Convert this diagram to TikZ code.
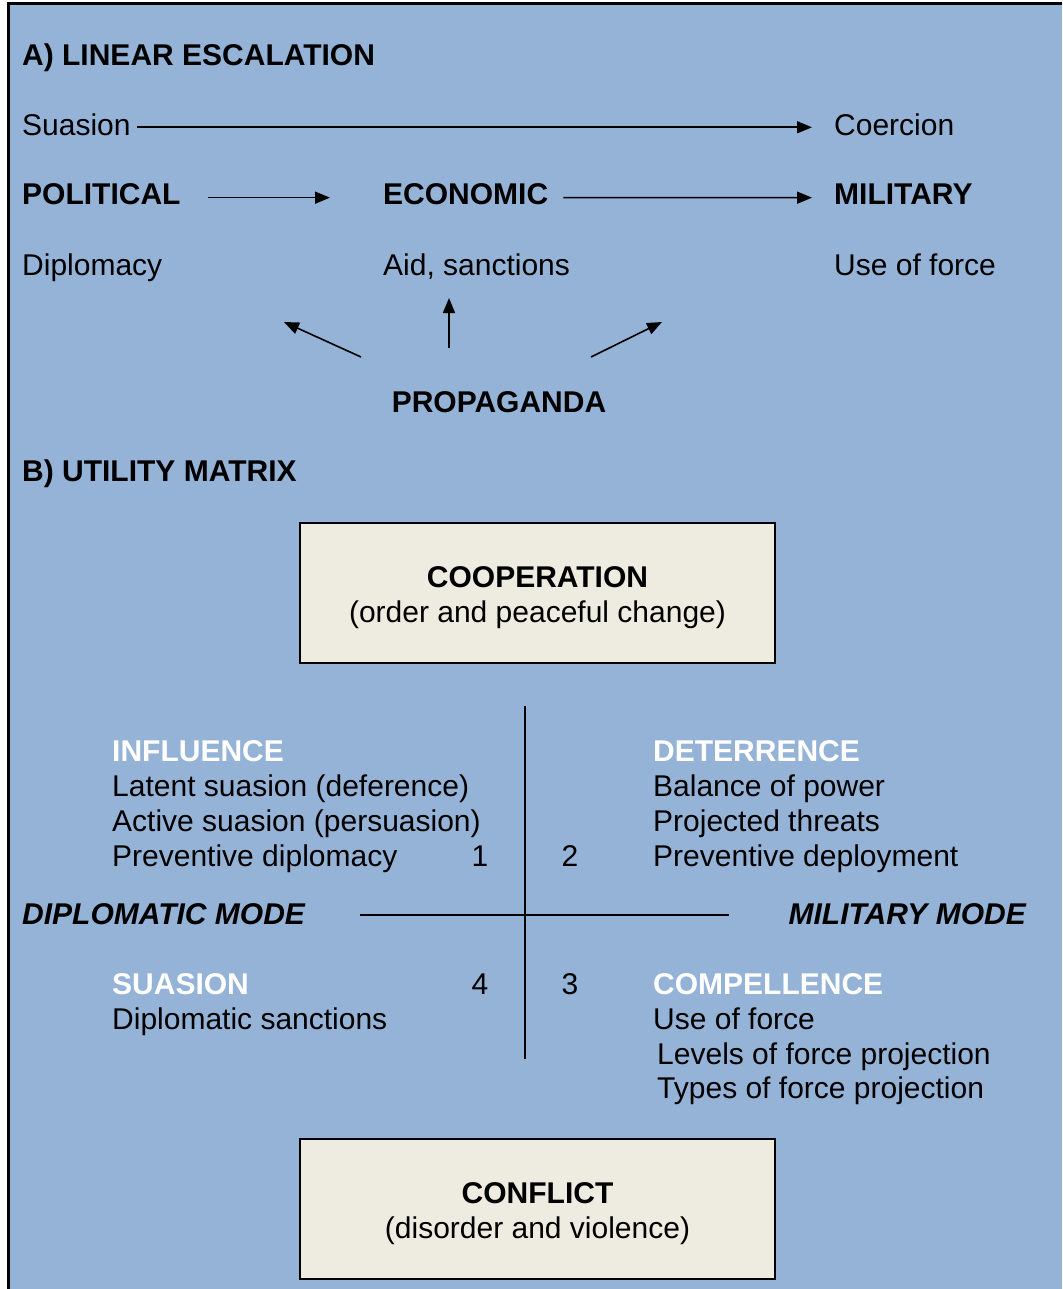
\documentclass[tikz,border=0pt]{standalone}
\usepackage{fontspec}
\setmainfont{Liberation Sans}
\usetikzlibrary{arrows.meta}
\definecolor{bgblue}{HTML}{95B3D7}
\definecolor{boxtan}{HTML}{EEECE1}
\begin{document}
\begin{tikzpicture}[x=1pt,y=-1pt,
  txt/.style={inner sep=0pt,anchor=base west,font=\fontsize{30}{35}\selectfont},
  btxt/.style={txt,font=\fontsize{30}{35}\selectfont\bfseries},
  wtxt/.style={btxt,text=white},
  itxt/.style={txt,font=\fontsize{30}{35}\selectfont\bfseries\itshape},
  arr/.style={line width=1.6pt,-{Triangle[length=15pt,width=12pt]}},
  stateline/.style={line width=2pt},
  statebox/.style={draw=black,line width=2.2pt,fill=boxtan,minimum width=475pt,minimum height=140pt,inner sep=0pt},
  boxtext/.style={inner sep=0pt,align=center,font=\fontsize{30}{35}\selectfont}]
\useasboundingbox (0,0) rectangle (1062,1289);
\fill[white] (0,0) rectangle (1062,1289);
\fill[bgblue] (8,4) rectangle (1062,1289);
\draw[line width=3pt] (8,1289) -- (8,4) -- (1062,4);
% Part A
\node[btxt] (headA) at (22,66) {A) LINEAR ESCALATION};
\node[txt] (suasion) at (22,136) {Suasion};
\node[txt] (coercion) at (834,136) {Coercion};
\node[btxt] (political) at (22,205) {POLITICAL};
\node[btxt] (economic) at (383,205) {ECONOMIC};
\node[btxt] (military) at (834,205) {MILITARY};
\node[txt] (diplomacy) at (22,275) {Diplomacy};
\node[txt] (aid) at (383,275) {Aid, sanctions};
\node[txt] (useforce) at (834,275) {Use of force};
\node[btxt,anchor=base] (propaganda) at (499,412) {PROPAGANDA};
\draw[arr,shorten <=6pt,shorten >=22pt] ([yshift=-2pt]suasion.east) -- ([yshift=-2pt]coercion.west);
\draw[arr,shorten <=27pt,shorten >=53pt] ([yshift=-3pt]political.east) -- ([yshift=-3pt]economic.west);
\draw[arr,shorten <=15pt,shorten >=22pt] ([yshift=-3pt]economic.east) -- ([yshift=-3pt]military.west);
\coordinate (pl0) at (361,357); \coordinate (pl1) at (284,322);
\coordinate (pm0) at (449,348); \coordinate (pm1) at (449,298);
\coordinate (pr0) at (591,357); \coordinate (pr1) at (662,322);
\draw[arr] (pl0) -- (pl1);
\draw[arr] (pm0) -- (pm1);
\draw[arr] (pr0) -- (pr1);
% Part B
\node[btxt] (headB) at (22,481) {B) UTILITY MATRIX};
\node[statebox] (coop) at (537.5,593) {};
\node[boxtext] (cooptext) at (537.5,598) {\textbf{COOPERATION}\\(order and peaceful change)};
\node[statebox] (conflict) at (537.5,1209) {};
\node[boxtext] (conflicttext) at (537.5,1213.5) {\textbf{CONFLICT}\\(disorder and violence)};
\coordinate (vtop) at (525,706); \coordinate (vbot) at (525,1059);
\coordinate (hl) at (360,915); \coordinate (hr) at (729,915);
\draw[stateline] (vtop) -- (vbot);
\draw[stateline] (hl) -- (hr);
\node[itxt] (dipmode) at (22,924) {DIPLOMATIC MODE};
\node[itxt,anchor=base east] (milmode) at (1026,924) {MILITARY MODE};
% quadrant 1
\node[wtxt] (influence) at (112,761) {INFLUENCE};
\node[txt] (inf1) at (112,796) {Latent suasion (deference)};
\node[txt] (inf2) at (112,831) {Active suasion (persuasion)};
\node[txt] (inf3) at (112,866) {Preventive diplomacy};
\node[txt,anchor=base] (n1) at (480,866) {1};
% quadrant 2
\node[txt,anchor=base] (n2) at (570,866) {2};
\node[wtxt] (deterrence) at (653,761) {DETERRENCE};
\node[txt] (det1) at (653,796) {Balance of power};
\node[txt] (det2) at (653,831) {Projected threats};
\node[txt] (det3) at (653,866) {Preventive deployment};
% quadrant 4
\node[wtxt] (suasionq) at (112,994) {SUASION};
\node[txt,anchor=base] (n4) at (480,994) {4};
\node[txt] (sua1) at (112,1029) {Diplomatic sanctions};
% quadrant 3
\node[txt,anchor=base] (n3) at (570,994) {3};
\node[wtxt] (compellence) at (653,994) {COMPELLENCE};
\node[txt] (com1) at (653,1029) {Use of force};
\node[txt] (com2) at (657,1064) {Levels of force projection};
\node[txt] (com3) at (657,1098) {Types of force projection};
\end{tikzpicture}
\end{document}
